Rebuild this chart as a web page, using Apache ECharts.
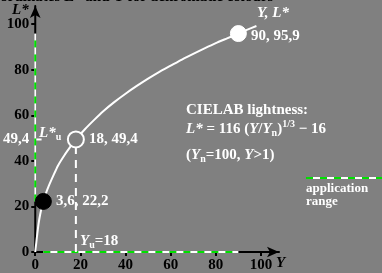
<!DOCTYPE html>
<html>
<head>
<meta charset="utf-8">
<script src="https://cdn.jsdelivr.net/npm/echarts@6/dist/echarts.min.js"></script>
<style>
  html, body { margin: 0; padding: 0; background: #808080; }
  #chart { width: 382px; height: 273px; }
</style>
</head>
<body>
<div id="chart"></div>
<script>
// lightness curve (Y, L*)
const curveY = [0, 0.3, 0.6, 0.9, 1.5, 2.2, 3, 3.6, 4.5, 6, 8, 10, 13, 16, 18, 22, 26, 30, 35, 40, 45, 50, 55, 60, 65, 70, 75, 80, 85, 90, 94, 98]
const curveL = [0, 2.7, 5.4, 8.0, 12.6, 16.6, 20.1, 22.2, 25.1, 29.0, 33.5, 37.8, 42.6, 46.8, 49.4, 53.9, 57.9, 61.7, 65.8, 69.5, 72.9, 76.1, 79.1, 81.8, 84.5, 87.0, 89.4, 91.7, 93.8, 95.9, 97.6, 99.2]
// marked points
const pointY = [3.6, 18, 90]
const pointL = [22.2, 49.4, 95.9]
const pointText = ['3,6, 22,2', '18, 49,4', '90, 95,9']
// application range on both axes
const rangeY = [3.6, 90]
const rangeL = [22.2, 95.9]
// reference (u) value
const refY = 18
const refL = 49.4
const tickValues = [0, 20, 40, 60, 80, 100]
const yLabelValues = [0, 20, 40, 49.4, 60, 80, 100]

const font = '"Liberation Serif", "DejaVu Serif", serif'
const chart = echarts.init(document.getElementById('chart'), null, { renderer: 'canvas' })

const pair = (xs, ys) => xs.map((x, i) => [x, ys[i]])

const baseX = {
  type: 'value', min: 0, max: 108, interval: 20,
  splitLine: { show: false },
}
const baseY = {
  type: 'value', min: 0, max: 108, interval: 20,
  splitLine: { show: false },
}

const option = {
  backgroundColor: '#808080',
  animation: false,
  grid: { left: 34, top: 6, width: 245, height: 248 },
  xAxis: [
    Object.assign({}, baseX, {
      axisLine: { symbol: ['none', 'arrow'], symbolSize: [8, 12], lineStyle: { color: '#000', width: 2 } },
      axisTick: { customValues: tickValues, length: 4, lineStyle: { color: '#000', width: 2 } },
      axisLabel: {
        customValues: tickValues, margin: 6,
        color: '#000', fontFamily: font, fontWeight: 'bold', fontSize: 15,
      },
    }),
    Object.assign({}, baseX, {
      axisLine: { show: false },
      axisTick: { customValues: tickValues, inside: true, length: 4, lineStyle: { color: '#000', width: 2 } },
      axisLabel: { show: false },
    }),
  ],
  yAxis: [
    Object.assign({}, baseY, {
      axisLine: { symbol: ['none', 'arrow'], symbolSize: [8, 12], lineStyle: { color: '#000', width: 2 } },
      axisTick: { customValues: tickValues, length: 4, lineStyle: { color: '#000', width: 2 } },
      axisLabel: {
        customValues: yLabelValues, margin: 6,
        fontFamily: font, fontWeight: 'bold', fontSize: 15,
        color: (v) => (Number(v) === refL ? '#fff' : '#000'),
        formatter: (v) => String(v).replace('.', ','),
      },
    }),
    Object.assign({}, baseY, {
      axisLine: { show: false },
      axisTick: { customValues: tickValues, inside: true, length: 4, lineStyle: { color: '#000', width: 2 } },
      axisLabel: { show: false },
    }),
  ],
  series: [
    // application range, white under green dashes
    {
      type: 'line', data: [[0, rangeL[0]], [0, rangeL[1]]], symbol: 'none', z: 3,
      lineStyle: { color: '#fff', width: 2 },
    },
    {
      type: 'line', data: [[0, rangeL[0]], [0, rangeL[1]]], symbol: 'none', z: 4,
      lineStyle: { color: '#00e000', width: 2, type: [7, 7] },
    },
    {
      type: 'line', data: [[rangeY[0], 0], [rangeY[1], 0]], symbol: 'none', z: 3,
      lineStyle: { color: '#fff', width: 2 },
    },
    {
      type: 'line', data: [[rangeY[0], 0], [rangeY[1], 0]], symbol: 'none', z: 4,
      lineStyle: { color: '#00e000', width: 2, type: [7, 7] },
    },
    // reference dashed lines
    {
      type: 'line', data: [[refY, 0], [refY, refL]], symbol: 'none', z: 5,
      lineStyle: { color: '#fff', width: 2, type: [8, 6] },
    },
    {
      type: 'line', data: [[0.5, refL], [2.8, refL]], symbol: 'none', z: 5,
      lineStyle: { color: '#fff', width: 2 },
    },
    // L* curve
    {
      type: 'line', data: pair(curveY, curveL), symbol: 'none', smooth: 0.2, z: 6,
      lineStyle: { color: '#fff', width: 2 },
    },
    // points
    {
      type: 'scatter', z: 8, symbolSize: 16,
      data: pointY.map((y, i) => ({
        value: [y, pointL[i]],
        itemStyle: i === 0 ? { color: '#000', borderColor: '#000', opacity: 1 }
          : i === 1 ? { color: '#808080', borderColor: '#fff', borderWidth: 2, opacity: 1 }
          : { color: '#fff', borderColor: '#fff', opacity: 1 },
        label: { offset: i === 2 ? [0, 3] : [0, 0] },
      })),
      label: {
        show: true, position: 'right', distance: 4,
        formatter: (p) => pointText[p.dataIndex],
        color: '#fff', fontFamily: font, fontWeight: 'bold', fontSize: 15,
      },
    },
  ],
  graphic: [
    {
      type: 'text', x: -18, y: -10, silent: true, z: 100,
      style: { text: 'Coordinates L* and Y for achromatic colours', fill: '#000', font: 'bold 15px ' + font },
    },
    {
      type: 'text', left: 12, top: 3, silent: true,
      style: { text: 'L*', fill: '#000', font: 'italic bold 15px ' + font },
    },
    {
      type: 'text', left: 276, top: 256, silent: true,
      style: { text: 'Y', fill: '#000', font: 'italic bold 15px ' + font },
    },
    {
      type: 'text', left: 257, top: 6, silent: true,
      style: { text: 'Y, L*', fill: '#fff', font: 'italic bold 15px ' + font },
    },
    {
      type: 'text', left: 39, top: 124, silent: true,
      style: {
        text: '{i|L*}{s|u}', fill: '#fff',
        rich: {
          i: { fill: '#fff', font: 'italic bold 15px ' + font, lineHeight: 20 },
          s: { fill: '#fff', font: 'bold 10px ' + font, lineHeight: 20, padding: [8, 0, 0, 0] },
        },
      },
    },
    {
      type: 'text', left: 80, top: 232, silent: true,
      style: {
        text: '{i|Y}{s|u}{t|=18}', fill: '#fff',
        rich: {
          i: { fill: '#fff', font: 'italic bold 15px ' + font, lineHeight: 18 },
          s: { fill: '#fff', font: 'bold 10px ' + font, lineHeight: 18, padding: [8, 0, 0, 0] },
          t: { fill: '#fff', font: 'bold 15px ' + font, lineHeight: 18 },
        },
      },
    },
    {
      type: 'text', left: 186, top: 103, silent: true,
      style: { text: 'CIELAB lightness:', fill: '#fff', font: 'bold 15px ' + font },
    },
    {
      type: 'text', left: 186, top: 119, silent: true,
      style: {
        text: '{i|L*}{t| = 116 (}{i|Y}{t|/}{i|Y}{s|n}{t|)}{p|1/3}{t| \u2212 16}', fill: '#fff',
        rich: {
          i: { fill: '#fff', font: 'italic bold 15px ' + font, lineHeight: 22 },
          t: { fill: '#fff', font: 'bold 15px ' + font, lineHeight: 22 },
          s: { fill: '#fff', font: 'bold 10px ' + font, lineHeight: 22, padding: [9, 0, 0, 0] },
          p: { fill: '#fff', font: 'bold 10px ' + font, lineHeight: 22, padding: [0, 0, 10, 0] },
        },
      },
    },
    {
      type: 'text', left: 186, top: 146, silent: true,
      style: {
        text: '{t|(}{i|Y}{s|n}{t|=100, }{i|Y}{t|>1)}', fill: '#fff',
        rich: {
          i: { fill: '#fff', font: 'italic bold 15px ' + font, lineHeight: 20 },
          t: { fill: '#fff', font: 'bold 15px ' + font, lineHeight: 20 },
          s: { fill: '#fff', font: 'bold 10px ' + font, lineHeight: 20, padding: [8, 0, 0, 0] },
        },
      },
    },
    // legend for the application range
    {
      type: 'line', silent: true,
      shape: { x1: 306, y1: 178, x2: 382, y2: 178 },
      style: { stroke: '#fff', lineWidth: 2 },
    },
    {
      type: 'line', silent: true,
      shape: { x1: 306, y1: 178, x2: 382, y2: 178 },
      style: { stroke: '#00e000', lineWidth: 2, lineDash: [7, 7] },
    },
    {
      type: 'text', left: 306, top: 182, silent: true,
      style: { text: 'application\nrange', fill: '#fff', font: 'bold 13px ' + font, lineHeight: 13 },
    },
  ],
}

chart.setOption(option)
window.addEventListener('resize', () => {
  chart.resize()
})
</script>
</body>
</html>
